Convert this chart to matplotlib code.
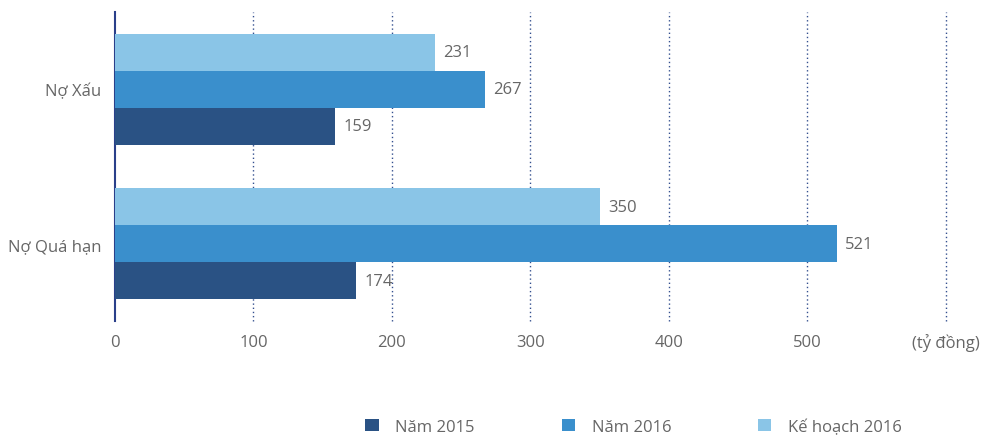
import numpy as np
import matplotlib.pyplot as plt
from matplotlib.patches import Patch

plt.rcParams['font.family'] = ['Open Sans', 'DejaVu Sans']

categories = ['Nợ Quá hạn', 'Nợ Xấu']
nam_2015 = [174, 159]
nam_2016 = [521, 267]
ke_hoach_2016 = [350, 231]
series_names = ['Năm 2015', 'Năm 2016', 'Kế hoạch 2016']
x_ticks = [0, 100, 200, 300, 400, 500, 600]
x_labels = ['0', '100', '200', '300', '400', '500', '(tỷ đồng)']

colors = ['#2a5284', '#3a8fcc', '#8ac5e7']
text_gray = '#666666'

fig = plt.figure(figsize=(9.81, 4.39), dpi=100)
ax = fig.add_axes([0.1172, 0.2665, 0.8471, 0.7039])

y = np.arange(len(categories))
h = 0.24
for offs, vals, c in [(-h, nam_2015, colors[0]), (0, nam_2016, colors[1]), (h, ke_hoach_2016, colors[2])]:
    bars = ax.barh(y + offs, vals, height=h, color=c, zorder=3)
    for b, v in zip(bars, vals):
        ax.text(v + 6, b.get_y() + h / 2, str(v), va='center', ha='left',
                fontsize=12, color=text_gray, zorder=4)

ax.set_xlim(0, 600)
ax.set_ylim(-0.5, 1.5)
ax.set_yticks(y)
ax.set_yticklabels(categories, fontsize=12, color=text_gray)
ax.set_xticks(x_ticks)
ax.set_xticklabels(x_labels, fontsize=12, color=text_gray)
ax.tick_params(axis='both', length=0)
ax.tick_params(axis='y', pad=10)
ax.tick_params(axis='x', pad=9)

for xv in x_ticks[1:]:
    ax.axvline(xv, color='#34508f', linestyle=(0, (1, 2)), linewidth=1,
               zorder=1, clip_on=False)

for s in ['top', 'right', 'bottom']:
    ax.spines[s].set_visible(False)
ax.spines['left'].set_color('#2a3f8a')
ax.spines['left'].set_linewidth(1.5)

handles = [Patch(facecolor=c, edgecolor='none') for c in colors]
fig.legend(handles, series_names, loc='center', bbox_to_anchor=(0.6458, 0.026),
           ncol=3, frameon=False, fontsize=12, handlelength=0.8, handleheight=0.8,
           handletextpad=1.0, columnspacing=5.2, labelcolor=text_gray)

fig.savefig('out.png', dpi=100)
